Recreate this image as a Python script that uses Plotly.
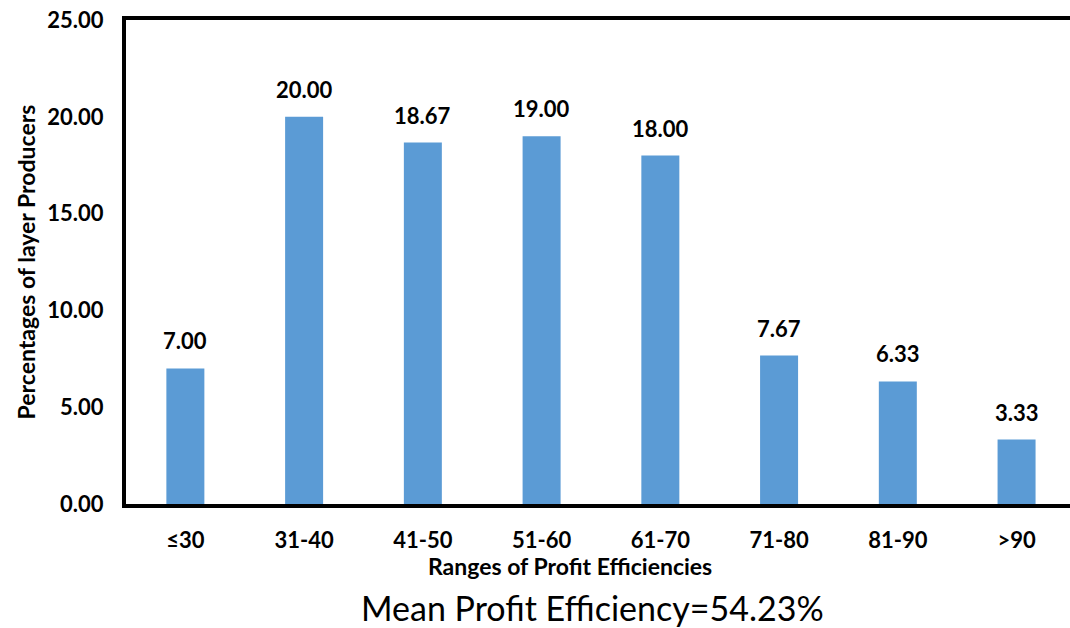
import plotly.graph_objects as go

categories = ["≤30", "31-40", "41-50", "51-60", "61-70", "71-80", "81-90", ">90"]
percentages = [7.00, 20.00, 18.67, 19.00, 18.00, 7.67, 6.33, 3.33]
y_ticks = [0, 5, 10, 15, 20, 25]

FONT = "Lato"
BOLD = dict(family=FONT, size=22, color="black", weight="bold")

xs = list(range(len(categories)))

fig = go.Figure()
fig.add_trace(go.Bar(
    x=xs,
    y=percentages,
    width=0.32,
    marker=dict(color="#5B9BD5", line=dict(width=0)),
    hoverinfo="skip",
))

for xv, v in zip(xs, percentages):
    fig.add_annotation(
        x=xv, y=v, xref="x", yref="y",
        text=f"{v:.2f}", showarrow=False,
        yanchor="bottom", yshift=12,
        font=BOLD,
    )

fig.update_layout(
    width=1070, height=628,
    margin=dict(l=126, r=0, t=20, b=124),
    paper_bgcolor="white", plot_bgcolor="white",
    showlegend=False,
    font=dict(family=FONT, color="black"),
    xaxis=dict(
        range=[-0.5, 7.45],
        tickmode="array",
        tickvals=xs,
        ticktext=categories,
        showgrid=False, zeroline=False,
        showline=True, linecolor="black", linewidth=4, mirror=True,
        ticks="", ticklabelstandoff=14,
        tickfont=BOLD,
    ),
    yaxis=dict(
        range=[0, 25],
        tickmode="array",
        tickvals=y_ticks,
        tickformat=".2f",
        showgrid=False, zeroline=False,
        showline=True, linecolor="black", linewidth=4,
        ticks="", ticklabelstandoff=14,
        tickfont=BOLD,
        title=dict(text="Percentages of layer Producers", standoff=6,
                   font=dict(family=FONT, size=23, weight="bold")),
    ),
)

fig.add_annotation(
    text="Ranges of Profit Efficiencies",
    xref="paper", yref="paper",
    x=(570 - 126) / 944, y=-(566 - 504) / 484,
    xanchor="center", yanchor="middle",
    showarrow=False,
    font=dict(family=FONT, size=23, color="black", weight="bold"),
)

fig.add_annotation(
    text="Mean Profit Efficiency=54.23%",
    xref="paper", yref="paper",
    x=(592 - 126) / 944, y=-(607 - 504) / 484,
    xanchor="center", yanchor="middle",
    showarrow=False,
    font=dict(family=FONT, size=34, color="black"),
)

fig.write_html("out.html")
